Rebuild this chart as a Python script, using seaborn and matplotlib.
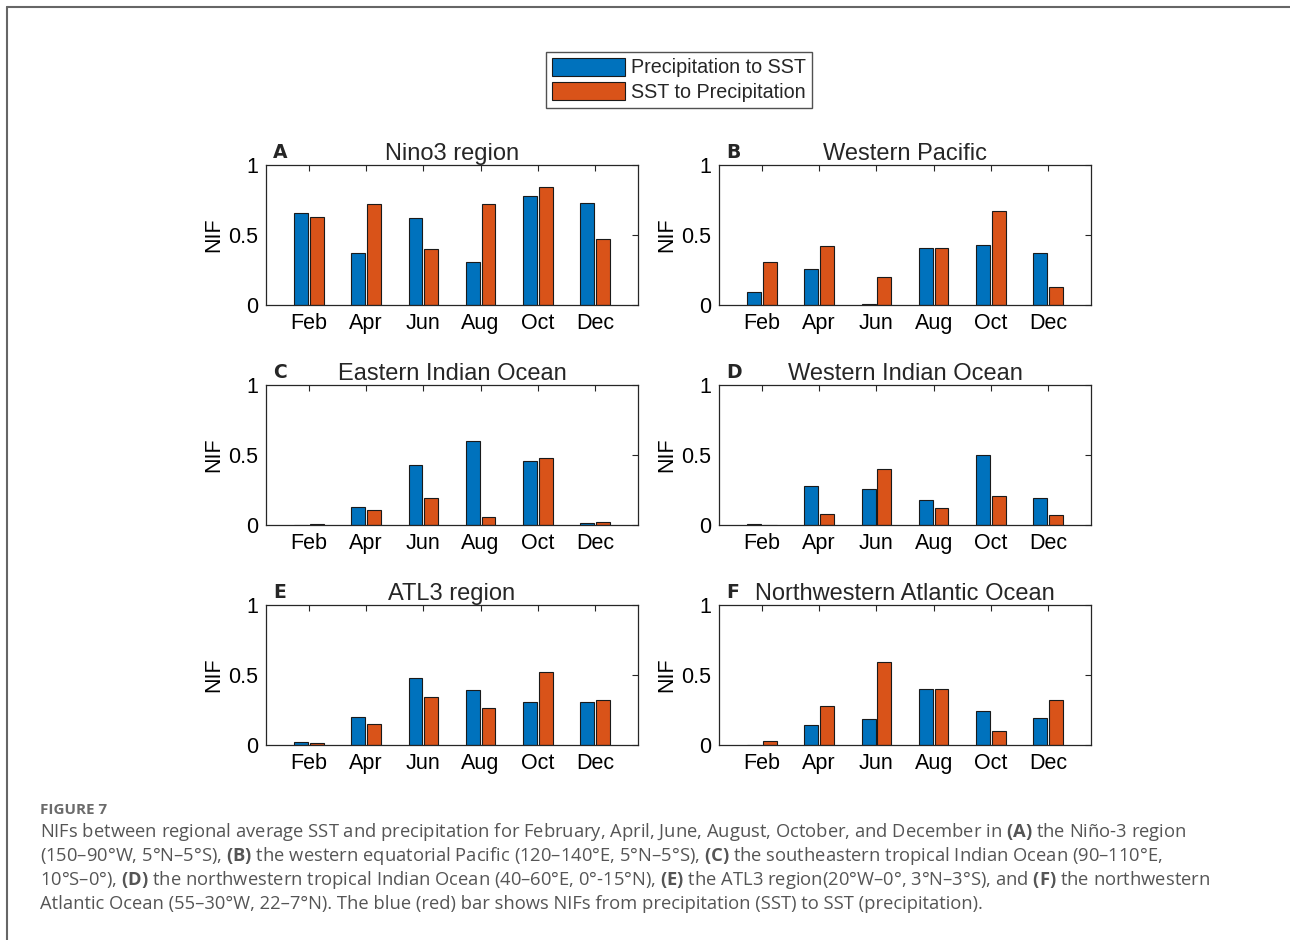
import matplotlib
matplotlib.use("Agg")
import matplotlib.pyplot as plt
from matplotlib.lines import Line2D
from matplotlib.patches import Patch
import seaborn as sns
import pandas as pd

# months shown on every panel
months = ["Feb", "Apr", "Jun", "Aug", "Oct", "Dec"]

# panel letters and titles
letters = ["A", "B", "C", "D", "E", "F"]
titles = ["Nino3 region", "Western Pacific", "Eastern Indian Ocean",
          "Western Indian Ocean", "ATL3 region", "Northwestern Atlantic Ocean"]

# NIF values (blue = precipitation to SST, red = SST to precipitation)
nino3_p2s = [0.66, 0.37, 0.62, 0.31, 0.78, 0.73]
nino3_s2p = [0.63, 0.72, 0.40, 0.72, 0.84, 0.47]
wpac_p2s = [0.09, 0.26, 0.005, 0.41, 0.43, 0.37]
wpac_s2p = [0.31, 0.42, 0.20, 0.41, 0.67, 0.13]
eio_p2s = [0.0, 0.13, 0.43, 0.60, 0.46, 0.012]
eio_s2p = [0.004, 0.11, 0.19, 0.055, 0.48, 0.024]
wio_p2s = [0.005, 0.28, 0.255, 0.175, 0.50, 0.195]
wio_s2p = [0.0, 0.075, 0.40, 0.12, 0.21, 0.068]
atl3_p2s = [0.024, 0.20, 0.48, 0.395, 0.307, 0.307]
atl3_s2p = [0.014, 0.15, 0.34, 0.267, 0.525, 0.325]
nwa_p2s = [0.0, 0.143, 0.188, 0.40, 0.243, 0.195]
nwa_s2p = [0.029, 0.28, 0.59, 0.40, 0.10, 0.32]

series = [(nino3_p2s, nino3_s2p), (wpac_p2s, wpac_s2p), (eio_p2s, eio_s2p),
          (wio_p2s, wio_s2p), (atl3_p2s, atl3_s2p), (nwa_p2s, nwa_s2p)]
directions = ["Precipitation to SST", "SST to Precipitation"]

blue = "#0072BD"
orange = "#D95319"
axcol = "#262626"

sns.set_style("white")
plt.rcParams["font.family"] = ["Liberation Sans", "DejaVu Sans"]
plt.rcParams["mathtext.fontset"] = "custom"
plt.rcParams["mathtext.rm"] = "Open Sans"
plt.rcParams["mathtext.bf"] = "Open Sans:bold"

fig = plt.figure(figsize=(12.9, 9.4), dpi=100)

# axes positions (fig fraction): left col / right col, three rows
lefts = [0.2062, 0.5574]
bottoms = [0.6755, 0.4415, 0.2074]
w, h = 0.2884, 0.149

for i in range(6):
    r, c = divmod(i, 2)
    ax = fig.add_axes([lefts[c], bottoms[r], w, h])
    p2s, s2p = series[i]
    df = pd.DataFrame({
        "month": months * 2,
        "NIF": list(p2s) + list(s2p),
        "dir": [directions[0]] * 6 + [directions[1]] * 6,
    })
    sns.barplot(data=df, x="month", y="NIF", hue="dir", order=months,
                hue_order=directions, palette=[blue, orange], saturation=1,
                width=0.55, gap=0.12, edgecolor="#1a1a1a", linewidth=0.8,
                legend=False, ax=ax)
    ax.set_xlim(-0.75, 5.75)
    ax.set_ylim(0, 1)
    ax.set_yticks([0, 0.5, 1])
    ax.set_yticklabels(["0", "0.5", "1"])
    ax.set_xlabel("")
    ax.set_ylabel("NIF", fontsize=15.5, labelpad=3, color="black")
    ax.tick_params(axis="both", direction="in", length=4, width=0.8,
                   colors=axcol, labelsize=15.5, top=True, right=True)
    ax.tick_params(axis="x", pad=6, labelcolor="black")
    ax.tick_params(axis="y", pad=5.5, labelcolor="black")
    for s in ax.spines.values():
        s.set_visible(True)
        s.set_color(axcol)
        s.set_linewidth(0.9)
    ax.set_title(titles[i], fontsize=17, pad=3.5)
    ax.text(0.019, 1.05, letters[i], transform=ax.transAxes, fontsize=13.5,
            fontweight="bold", family="DejaVu Sans", va="baseline", ha="left")

# shared legend above the panels
handles = [Patch(facecolor=blue, edgecolor="#1a1a1a", linewidth=0.8),
           Patch(facecolor=orange, edgecolor="#1a1a1a", linewidth=0.8)]
leg = fig.legend(handles, directions, loc="center", bbox_to_anchor=(0.5264, 0.915),
                 fontsize=14.2, frameon=True, fancybox=False, edgecolor="#262626",
                 handlelength=3.7, handleheight=1.0, borderpad=0.3,
                 labelspacing=0.25, handletextpad=0.35, borderaxespad=0)
leg.get_frame().set_linewidth(1.0)

# page frame lines
fig.add_artist(Line2D([7 / 1290, 1], [1 - 7 / 940, 1 - 7 / 940], color="#666666", lw=1.5))
fig.add_artist(Line2D([7 / 1290, 7 / 1290], [0, 1 - 7 / 940], color="#666666", lw=1.5))

# caption
cap_x = 40 / 1290
fig.text(cap_x, 1 - 810 / 940, "FIGURE 7", fontsize=11, fontweight="bold",
         family="Open Sans", color="#6b6b6b", va="center")
cap_lines = [
    r"NIFs between regional average SST and precipitation for February, April, June, August, October, and December in $\mathbf{(A)}$ the Niño-3 region",
    r"(150–90°W, 5°N–5°S), $\mathbf{(B)}$ the western equatorial Pacific (120–140°E, 5°N–5°S), $\mathbf{(C)}$ the southeastern tropical Indian Ocean (90–110°E,",
    r"10°S–0°), $\mathbf{(D)}$ the northwestern tropical Indian Ocean (40–60°E, 0°-15°N), $\mathbf{(E)}$ the ATL3 region(20°W–0°, 3°N–3°S), and $\mathbf{(F)}$ the northwestern",
    r"Atlantic Ocean (55–30°W, 22–7°N). The blue (red) bar shows NIFs from precipitation (SST) to SST (precipitation).",
]
cap_y = [832, 856, 880, 904]
for line, yy in zip(cap_lines, cap_y):
    fig.text(cap_x, 1 - yy / 940, line, fontsize=13.25, family="Open Sans",
             color="#555555", va="center")

fig.savefig("out.png", dpi=100)
